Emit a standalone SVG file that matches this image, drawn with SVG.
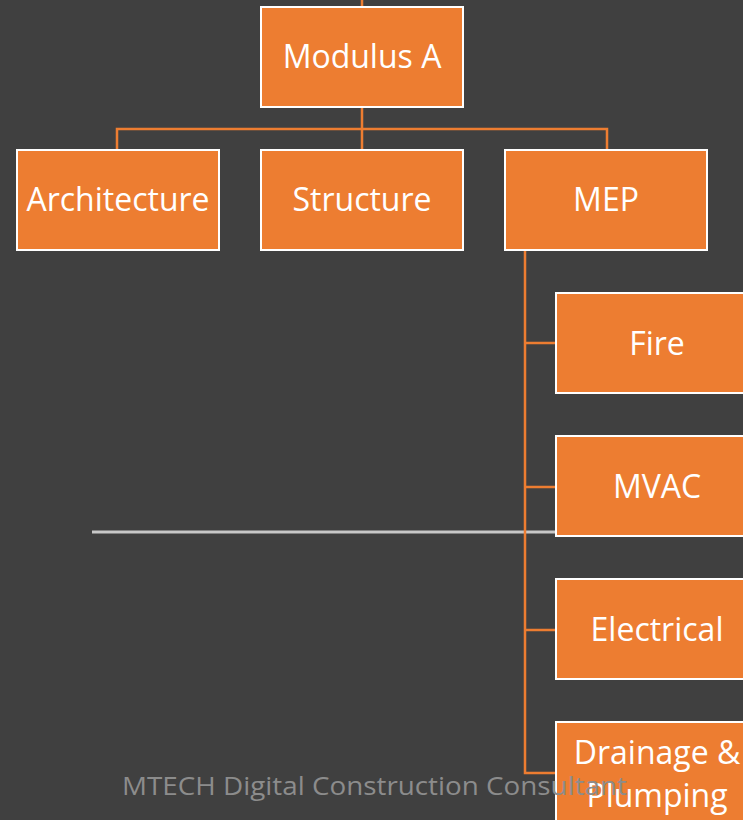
<svg xmlns="http://www.w3.org/2000/svg" width="743" height="820" viewBox="0 0 743 820">
<style>
.box{fill:#ED7D31;stroke:#ffffff;stroke-width:2}
.lbl{font-family:"Open Sans","Liberation Sans",sans-serif;font-size:32px;fill:#ffffff;text-anchor:middle}
.con{stroke:#ED7D31;stroke-width:2.5;fill:none}
</style>
<rect width="743" height="820" fill="#404040"/>
<line x1="92" y1="532" x2="556" y2="532" stroke="#c8c8c8" stroke-width="3"/>
<g id="connectors">
<line class="con" x1="362" y1="0" x2="362" y2="7"/>
<line class="con" x1="362" y1="107" x2="362" y2="129"/>
<polyline class="con" points="117,150 117,129 607,129 607,150"/>
<line class="con" x1="362" y1="129" x2="362" y2="150"/>
<polyline class="con" points="525,251 525,773 556,773"/>
<line class="con" x1="525" y1="343" x2="556" y2="343"/>
<line class="con" x1="525" y1="487" x2="556" y2="487"/>
<line class="con" x1="525" y1="630" x2="556" y2="630"/>
</g>
<g id="modulus"><rect class="box" x="261" y="7" width="202" height="100"/><text class="lbl" x="362" y="68">Modulus A</text></g>
<g id="architecture"><rect class="box" x="17" y="150" width="202" height="100"/><text class="lbl" x="118" y="211">Architecture</text></g>
<g id="structure"><rect class="box" x="261" y="150" width="202" height="100"/><text class="lbl" x="362" y="211">Structure</text></g>
<g id="mep"><rect class="box" x="505" y="150" width="202" height="100"/><text class="lbl" x="606" y="211">MEP</text></g>
<g id="fire"><rect class="box" x="556" y="293" width="202" height="100"/><text class="lbl" x="657" y="355">Fire</text></g>
<g id="mvac"><rect class="box" x="556" y="436" width="202" height="100"/><text class="lbl" x="657" y="498">MVAC</text></g>
<g id="electrical"><rect class="box" x="556" y="579" width="202" height="100"/><text class="lbl" x="657" y="641">Electrical</text></g>
<g id="drainage"><rect class="box" x="556" y="722" width="202" height="100"/><text class="lbl" x="657" y="764">Drainage &amp;</text><text class="lbl" x="657" y="807">Plumping</text></g>
<text x="122" y="795" font-family="Open Sans, Liberation Sans, sans-serif" font-size="26" fill="#8c8c8c" textLength="505" lengthAdjust="spacingAndGlyphs">MTECH Digital Construction Consultant</text>
</svg>
